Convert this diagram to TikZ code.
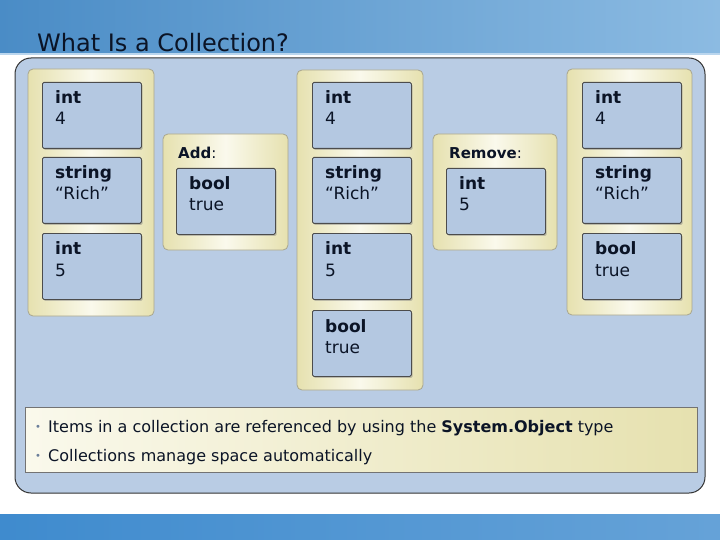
\documentclass[tikz,border=0pt]{standalone}
\usepackage{fontspec}
\setmainfont{DejaVu Sans}
\usetikzlibrary{shadows}

\definecolor{bannerdark}{HTML}{4A8CC6}
\definecolor{bannerlight}{HTML}{8CBBE2}
\definecolor{footblue}{HTML}{3F8BCE}
\definecolor{panelblue}{HTML}{B9CCE4}
\definecolor{boxblue}{HTML}{B4C8E1}
\definecolor{creamedge}{HTML}{E6E1AF}
\definecolor{creammid}{HTML}{FAF9EC}
\definecolor{framegray}{HTML}{A9A68E}
\definecolor{inkcol}{HTML}{0B1426}
\definecolor{bulletcol}{HTML}{6A7E9A}

% value box: name, x, y (top left), type, value
\newcommand{\valbox}[5]{%
  \node[valbox] (#1) at (#2,#3) {};
  \node[valtext] (#1-txt) at ([xshift=13pt,yshift=-43pt]#1.north west)
    {\textbf{#4}\\#5};
}

\begin{document}
\begin{tikzpicture}[x=1pt,y=-1pt,
    panel/.style={draw=black!80,line width=1pt,fill=panelblue,rounded corners=16pt},
    frame/.style={draw=framegray,line width=0.8pt,rounded corners=5pt,
      left color=creamedge,right color=creamedge,middle color=creammid},
    valbox/.style={draw=black!70,line width=0.8pt,fill=boxblue,rounded corners=1.5pt,
      minimum width=99pt,minimum height=66pt,anchor=north west,inner sep=0pt,
      drop shadow={shadow xshift=1.2pt,shadow yshift=-1.5pt,opacity=0.45}},
    valtext/.style={anchor=base west,align=left,inner sep=0pt,text=inkcol,
      font=\fontsize{17}{21}\selectfont},
    oplabel/.style={anchor=base west,inner sep=0pt,text=inkcol,
      font=\fontsize{15}{18}\selectfont},
    bullettext/.style={anchor=base west,inner sep=0pt,text=inkcol,
      font=\fontsize{16}{19}\selectfont}]
    \useasboundingbox (0,0) rectangle (720,540);

    % Draw banners
    \fill[left color=bannerdark,right color=bannerlight] (0,0) rectangle (720,55);
    \fill[bannerlight!60!white] (0,53) rectangle (720,55);
    \fill[left color=footblue,right color=footblue!80!white] (0,514) rectangle (720,540);
    \node[anchor=base west,inner sep=0pt,text=inkcol,
      font=\fontsize{24}{28}\selectfont] (title) at (37,52) {What Is a Collection?};

    % Draw main panel
    \draw[panel] (15,58) rectangle (705,493);

    % Draw collection frames
    \draw[frame] (28,69) rectangle (154,316);
    \draw[frame] (163,134) rectangle (288,250);
    \draw[frame] (297,70) rectangle (423,390);
    \draw[frame] (433,134) rectangle (557,250);
    \draw[frame] (567,69) rectangle (692,315);

    % Before
    \valbox{a1}{42}{82}{int}{4}
    \valbox{a2}{42}{157}{string}{“Rich”}
    \valbox{a3}{42}{233}{int}{5}

    % Add
    \node[oplabel] (addlbl) at (178,159) {\textbf{Add}:};
    \valbox{add}{176}{168}{bool}{true}

    % After add
    \valbox{b1}{312}{82}{int}{4}
    \valbox{b2}{312}{157}{string}{“Rich”}
    \valbox{b3}{312}{233}{int}{5}
    \valbox{b4}{312}{310}{bool}{true}

    % Remove
    \node[oplabel] (remlbl) at (449,159) {\textbf{Remove}:};
    \valbox{rem}{446}{168}{int}{5}

    % After remove
    \valbox{c1}{582}{82}{int}{4}
    \valbox{c2}{582}{157}{string}{“Rich”}
    \valbox{c3}{582}{233}{bool}{true}

    % Notes
    \draw[draw=black!55,line width=0.8pt,left color=creammid,right color=creamedge]
      (25,407) rectangle (697,472);
    \node[anchor=base west,inner sep=0pt,text=bulletcol,font=\fontsize{10}{12}\selectfont]
      (dot1) at (35,430) {•};
    \node[bullettext] (note1) at (48,432)
      {Items in a collection are referenced by using the \textbf{System.Object} type};
    \node[anchor=base west,inner sep=0pt,text=bulletcol,font=\fontsize{10}{12}\selectfont]
      (dot2) at (35,459) {•};
    \node[bullettext] (note2) at (48,461) {Collections manage space automatically};
\end{tikzpicture}
\end{document}
